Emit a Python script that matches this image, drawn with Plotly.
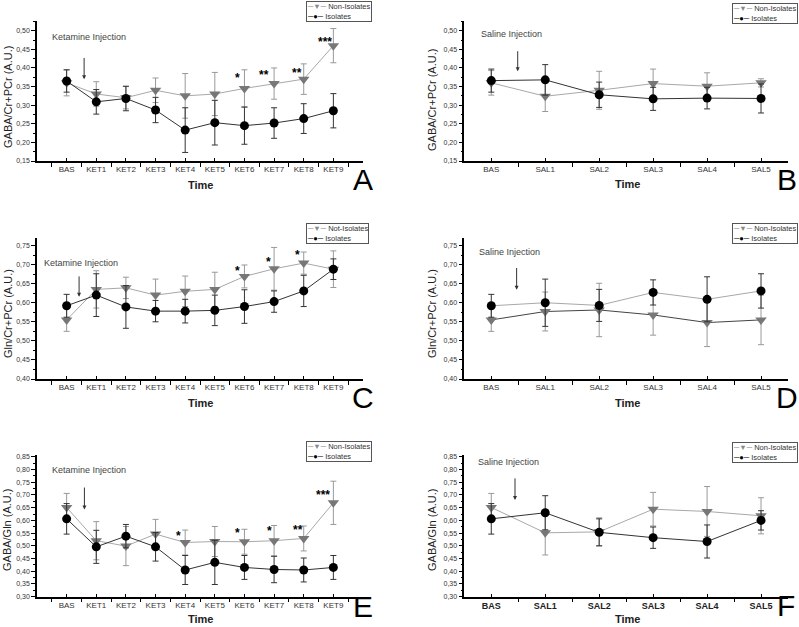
import plotly.graph_objects as go

# ---------------- data ----------------
KET_CATS = ["BAS", "KET1", "KET2", "KET3", "KET4", "KET5", "KET6", "KET7", "KET8", "KET9"]
SAL_CATS = ["BAS", "SAL1", "SAL2", "SAL3", "SAL4", "SAL5"]

A_non = [0.360, 0.330, 0.320, 0.340, 0.325, 0.330, 0.345, 0.358, 0.370, 0.460]
A_non_err = [0.035, 0.033, 0.030, 0.033, 0.060, 0.058, 0.050, 0.042, 0.041, 0.046]
A_iso = [0.365, 0.309, 0.318, 0.287, 0.233, 0.253, 0.245, 0.252, 0.264, 0.285]
A_iso_err = [0.030, 0.033, 0.033, 0.034, 0.060, 0.060, 0.050, 0.041, 0.040, 0.046]

B_non = [0.360, 0.324, 0.340, 0.358, 0.351, 0.360]
B_non_err = [0.033, 0.041, 0.051, 0.039, 0.036, 0.011]
B_iso = [0.366, 0.368, 0.328, 0.317, 0.319, 0.318]
B_iso_err = [0.031, 0.041, 0.034, 0.031, 0.029, 0.039]

C_non = [0.555, 0.635, 0.639, 0.620, 0.630, 0.635, 0.669, 0.689, 0.704, 0.688]
C_non_err = [0.030, 0.049, 0.028, 0.042, 0.040, 0.045, 0.030, 0.056, 0.029, 0.048]
C_iso = [0.592, 0.620, 0.589, 0.578, 0.578, 0.580, 0.590, 0.603, 0.631, 0.688]
C_iso_err = [0.030, 0.056, 0.056, 0.028, 0.031, 0.040, 0.044, 0.028, 0.041, 0.027]

D_non = [0.555, 0.577, 0.581, 0.568, 0.548, 0.555]
D_non_err = [0.030, 0.051, 0.070, 0.053, 0.063, 0.065]
D_iso = [0.592, 0.600, 0.593, 0.627, 0.609, 0.631]
D_iso_err = [0.030, 0.062, 0.042, 0.033, 0.059, 0.045]

E_non = [0.651, 0.520, 0.499, 0.546, 0.513, 0.517, 0.516, 0.520, 0.529, 0.669]
E_non_err = [0.055, 0.075, 0.077, 0.058, 0.049, 0.059, 0.049, 0.060, 0.049, 0.085]
E_iso = [0.606, 0.496, 0.538, 0.496, 0.405, 0.435, 0.415, 0.407, 0.405, 0.415]
E_iso_err = [0.060, 0.065, 0.046, 0.056, 0.057, 0.087, 0.047, 0.052, 0.047, 0.047]

F_non = [0.651, 0.551, 0.555, 0.644, 0.635, 0.618]
F_non_err = [0.055, 0.087, 0.055, 0.066, 0.098, 0.071]
F_iso = [0.606, 0.630, 0.553, 0.532, 0.517, 0.600]
F_iso_err = [0.060, 0.067, 0.053, 0.042, 0.065, 0.038]

A_stars = [(5.77, 0.372, "*"), (6.67, 0.380, "**"), (7.76, 0.386, "**"), (8.72, 0.470, "***")]
C_stars = [(5.77, 0.684, "*"), (6.80, 0.706, "*"), (7.79, 0.726, "*")]
E_stars = [(3.76, 0.537, "*"), (5.77, 0.550, "*"), (6.84, 0.557, "*"), (7.80, 0.563, "**"), (8.66, 0.698, "***")]

W, H = 799, 627
GRAY_M = "#777777"
GRAY_L = "#a8a8a8"
BLACK = "#000000"
FONT = "Liberation Sans, Arial, sans-serif"

panels = [
    dict(k="A", cats=KET_CATS, non=A_non, ne=A_non_err, iso=A_iso, ie=A_iso_err,
         yt="GABA/Cr+PCr (A.U.)", nn="Non-Isolates", stars=A_stars,
         txt="Ketamine Injection", tx=(-0.56, 0.482), arr=(0.59, 0.431, 0.370), col=0, row=0),
    dict(k="B", cats=SAL_CATS, non=B_non, ne=B_non_err, iso=B_iso, ie=B_iso_err,
         yt="GABA/Cr+PCr (A.U.)", nn="Non-Isolates", stars=[],
         txt="Saline Injection", tx=(-0.23, 0.491), arr=(0.49, 0.449, 0.391), col=1, row=0),
    dict(k="C", cats=KET_CATS, non=C_non, ne=C_non_err, iso=C_iso, ie=C_iso_err,
         yt="Gln/Cr+PCr (A.U.)", nn="Not-Isolates", stars=C_stars,
         txt="Ketamine Injection", tx=(-0.84, 0.704), arr=(0.42, 0.673, 0.616), col=0, row=1),
    dict(k="D", cats=SAL_CATS, non=D_non, ne=D_non_err, iso=D_iso, ie=D_iso_err,
         yt="Gln/Cr+PCr (A.U.)", nn="Non-Isolates", stars=[],
         txt="Saline Injection", tx=(-0.26, 0.732), arr=(0.47, 0.695, 0.634), col=1, row=1, swap=True),
    dict(k="E", cats=KET_CATS, non=E_non, ne=E_non_err, iso=E_iso, ie=E_iso_err,
         yt="GABA/Gln (A.U.)", nn="Non-Isolates", stars=E_stars,
         txt="Ketamine Injection", tx=(-0.56, 0.798), arr=(0.60, 0.735, 0.643), col=0, row=2),
    dict(k="F", cats=SAL_CATS, non=F_non, ne=F_non_err, iso=F_iso, ie=F_iso_err,
         yt="GABA/Gln (A.U.)", nn="Non-Isolates", stars=[],
         txt="Saline Injection", tx=(-0.29, 0.828), arr=(0.44, 0.771, 0.680), col=1, row=2, bold=True),
]

col_px = [(37, 363), (464.3, 788)]
row_px = [(20.7, 161), (238.3, 379), (455, 596.7)]
row_yrange = [(0.15, 0.527), (0.40, 0.769), (0.30, 0.857)]
row_tick0 = [0.15, 0.40, 0.30]
legend_px = [[(306, 0.5), (732, 3)], [(306, 222.7), (732, 222.7)], [(306, 440.7), (732, 441.7)]]
label_px = [[(363, 180), (787, 180)], [(363, 398), (787, 397)], [(363, 606), (786, 605)]]
time_px = [[(200, 185), (627, 184)], [(200, 403), (627, 403)], [(200, 619), (627, 619)]]
ytitle_px = [[(8, 97), (432, 100)], [(8, 314), (432, 314)], [(7, 530), (432, 530)]]

fig = go.Figure()
layout = dict(width=W, height=H, margin=dict(l=0, r=0, t=0, b=0, autoexpand=False),
              paper_bgcolor="white", plot_bgcolor="white",
              separators=",.", font=dict(family=FONT, color="#333333"),
              showlegend=False)
annotations = []


def paper_ann(x, y, text, font, **kw):
    d = dict(x=x / W, y=1 - y / H, xref="paper", yref="paper", text=text,
             showarrow=False, xanchor="center", yanchor="middle", font=font)
    d.update(kw)
    return d


for i, p in enumerate(panels):
    n = i + 1
    sfx = "" if n == 1 else str(n)
    xa, ya = "x" + sfx, "y" + sfx
    c, r = p["col"], p["row"]
    xs = list(range(len(p["cats"])))
    swap = p.get("swap", False)

    fig.add_trace(go.Scatter(
        x=xs, y=p["non"], xaxis=xa, yaxis=ya, name=p["nn"],
        mode="lines+markers", showlegend=False,
        line=dict(color=("#444444" if swap else GRAY_L), width=1),
        marker=dict(symbol="triangle-down", size=10, color=GRAY_M),
        error_y=dict(type="data", array=p["ne"], visible=True, color="#999999",
                     thickness=1, width=3),
    ))
    fig.add_trace(go.Scatter(
        x=xs, y=p["iso"], xaxis=xa, yaxis=ya, name="Isolates",
        mode="lines+markers", showlegend=False,
        line=dict(color=(GRAY_L if swap else "#333333"), width=1),
        marker=dict(symbol="circle", size=9, color=BLACK),
        error_y=dict(type="data", array=p["ie"], visible=True, color="#333333",
                     thickness=1, width=3),
    ))

    x0, x1 = col_px[c]
    yt, yb = row_px[r]
    nc = len(p["cats"])
    xr = [-1, nc] if nc == 10 else [-0.5, nc - 0.5]
    tickfont = dict(size=8, family=FONT, color="#333333")
    if p.get("bold"):
        tickfont = dict(size=9, family=FONT, color="#222222", weight="bold")
    layout["xaxis" + sfx] = dict(
        domain=[x0 / W, x1 / W], anchor=ya, range=xr, automargin=False,
        tickmode="array", tickvals=xs, ticktext=p["cats"],
        ticks="inside", ticklen=3, tickcolor="#000", tickwidth=1,
        minor=dict(tickmode="linear", tick0=-0.5, dtick=1, ticks="outside",
                   ticklen=4, tickcolor="#000", tickwidth=1),
        showline=True, linecolor="#000", linewidth=1.5, mirror=False,
        showgrid=False, zeroline=False, tickfont=tickfont, fixedrange=True,
    )
    layout["yaxis" + sfx] = dict(
        domain=[1 - yb / H, 1 - yt / H], anchor=xa, range=list(row_yrange[r]),
        automargin=False,
        tickmode="linear", tick0=row_tick0[r], dtick=0.05, tickformat=".2f",
        ticks="outside", ticklen=4, tickcolor="#000", tickwidth=1,
        minor=dict(tickmode="linear", tick0=row_tick0[r], dtick=0.025,
                   ticks="outside", ticklen=2, tickcolor="#000"),
        showline=True, linecolor="#000", linewidth=1.5, mirror=False,
        showgrid=False, zeroline=False,
        tickfont=dict(size=7, family=FONT, color="#333333"), fixedrange=True,
    )

    # legend box (text based)
    lx, ly = legend_px[r][c]
    leg_txt = ('<span style="color:#888888">\u2500\u25bc\u2500</span> ' + p["nn"] +
               '<br><span style="color:#000000">\u2500\u25cf\u2500</span> Isolates')
    annotations.append(paper_ann(lx, ly, leg_txt,
                                 dict(size=7.5, family=FONT, color="#333333"),
                                 xanchor="left", yanchor="top", align="left",
                                 bordercolor="#555555", borderwidth=1, borderpad=0,
                                 bgcolor="white"))

    # significance stars
    for sx, sy, st in p["stars"]:
        annotations.append(dict(x=sx, y=sy, xref=xa, yref=ya, text=st, showarrow=False,
                                xanchor="center", yanchor="middle",
                                font=dict(size=12, color="#000", family=FONT, weight="bold")))
    # injection text
    annotations.append(dict(x=p["tx"][0], y=p["tx"][1], xref=xa, yref=ya, text=p["txt"],
                            showarrow=False, xanchor="left", yanchor="middle",
                            font=dict(size=9, color="#444444", family=FONT)))
    # injection arrow
    ax_, ytop, ybot = p["arr"]
    annotations.append(dict(x=ax_, y=ybot, xref=xa, yref=ya, ax=ax_, ay=ytop,
                            axref=xa, ayref=ya, text="", showarrow=True,
                            arrowhead=2, arrowsize=0.8, arrowwidth=1, arrowcolor="#333333"))
    # axis titles
    tx_, ty_ = time_px[r][c]
    annotations.append(paper_ann(tx_, ty_, "Time",
                                 dict(size=11, color="#222222", family=FONT, weight="bold")))
    yx_, yy_ = ytitle_px[r][c]
    annotations.append(paper_ann(yx_, yy_, p["yt"],
                                 dict(size=11, color="#222222", family=FONT), textangle=-90))
    # panel letter
    px_, py_ = label_px[r][c]
    annotations.append(paper_ann(px_, py_, p["k"], dict(size=30, color="#000", family=FONT)))

layout["annotations"] = annotations
fig.update_layout(**layout)
fig.write_html("out.html", config={"displayModeBar": False},
               post_script="document.body.style.margin='0px';document.body.style.overflow='hidden';")
